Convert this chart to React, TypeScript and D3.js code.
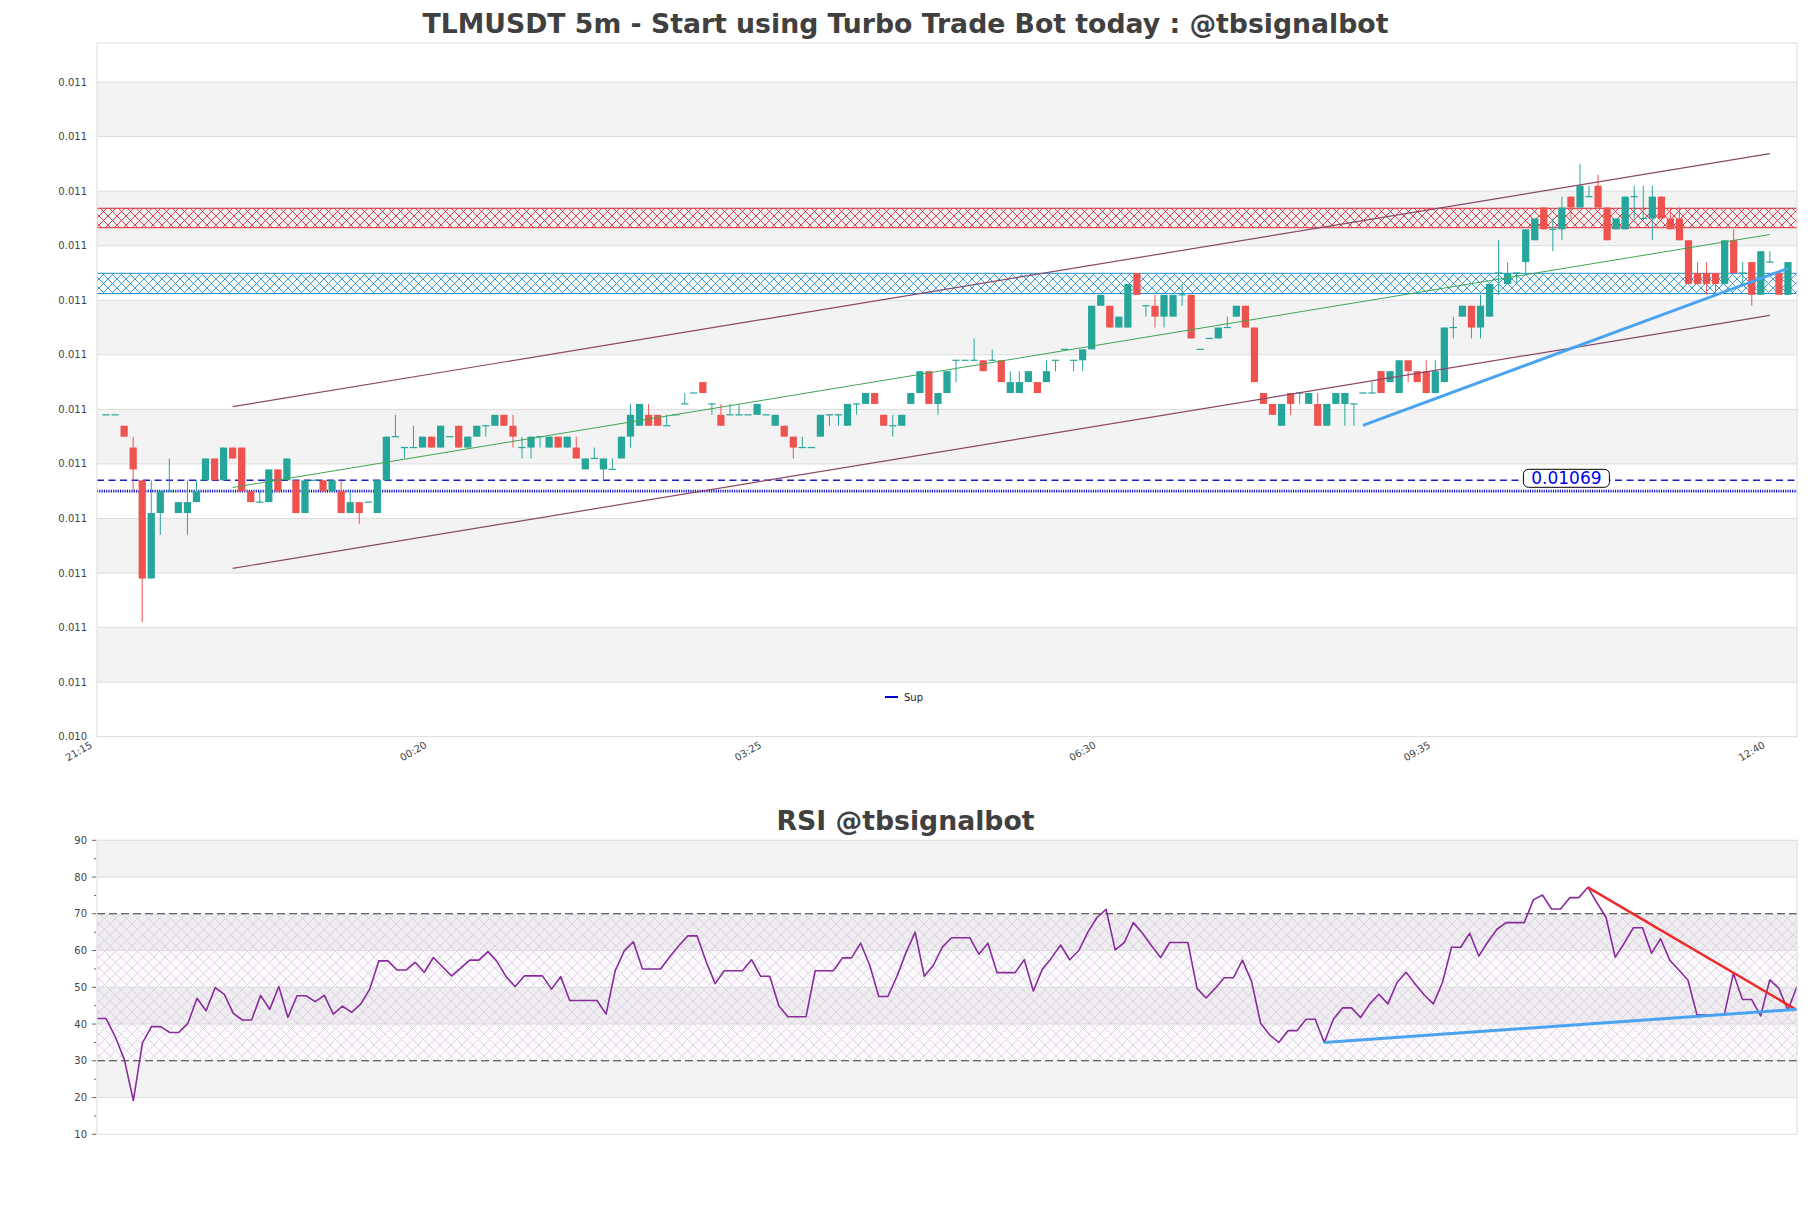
import React, { useEffect } from "react";
import * as d3 from "d3";

const FONT = "'DejaVu Sans', Verdana, sans-serif";
const TICK = 0.00001; // prices below are in 1e-5 USDT steps

// ---------- candles (slot 1 .. 187, 5-minute bars) ----------
const firstSlot = 1;
const opens = [1075,1075,1074,1072,1069,1060,1066,1068,1066,1066,1067,1069,1071,1069,1072,1072,1068,1067,1067,1070,1069,1069,1066,1069,1069,1068,1068,1066,1067,1067,1066,1069,1073,1072,1072,1072,1073,1072,1073,1074,1072,1073,1074,1074,1075,1074,1072,1072,1073,1072,1073,1072,1072,1070,1071,1070,1070,1071,1073,1074,1075,1075,1074,1075,1076,1077,1078,1076,1075,1075,1075,1075,1075,1075,1074,1074,1073,1072,1072,1073,1075,1075,1074,1076,1076,1077,1075,1074,1074,1076,1077,1079,1076,1077,1080,1080,1080,1080,1080,1080,1077,1077,1078,1078,1078,1080,1081,1080,1080,1081,1085,1085,1083,1083,1088,1085,1085,1084,1084,1086,1086,1081,1082,1082,1083,1084,1085,1083,1077,1076,1074,1077,1077,1076,1076,1074,1076,1076,1076,1077,1077,1079,1078,1077,1080,1079,1079,1077,1078,1083,1084,1085,1083,1084,1088,1087,1088,1089,1091,1094,1092,1092,1095,1094,1095,1096,1094,1092,1092,1095,1093,1093,1095,1093,1093,1091,1088,1088,1088,1087,1091,1088,1089,1086,1089,1088,1086];
const highs = [1075,1075,1074,1073,1069,1069,1068,1071,1067,1069,1069,1071,1071,1072,1072,1072,1068,1068,1070,1070,1071,1069,1069,1069,1069,1069,1069,1068,1067,1067,1069,1073,1075,1072,1074,1073,1073,1074,1073,1074,1073,1074,1074,1075,1075,1075,1073,1073,1073,1073,1073,1073,1073,1071,1072,1071,1071,1073,1076,1076,1076,1075,1075,1075,1077,1077,1078,1076,1076,1076,1076,1075,1076,1075,1075,1074,1073,1073,1072,1075,1075,1075,1076,1076,1077,1077,1075,1075,1075,1077,1079,1079,1077,1079,1080,1080,1082,1080,1081,1080,1079,1079,1079,1078,1080,1080,1081,1080,1081,1085,1086,1085,1084,1087,1088,1085,1086,1086,1086,1087,1086,1081,1082,1083,1084,1085,1085,1083,1077,1076,1076,1077,1077,1077,1077,1076,1077,1077,1076,1077,1078,1079,1079,1080,1080,1079,1080,1080,1083,1084,1085,1085,1086,1087,1091,1089,1088,1092,1093,1094,1093,1095,1095,1098,1096,1097,1094,1093,1095,1096,1096,1096,1095,1094,1094,1091,1089,1089,1088,1091,1092,1089,1089,1090,1090,1088,1089];
const lows = [1075,1075,1073,1068,1056,1060,1064,1068,1066,1064,1067,1069,1069,1069,1071,1068,1067,1067,1067,1068,1069,1066,1066,1069,1068,1068,1066,1066,1065,1067,1066,1069,1073,1071,1072,1072,1072,1072,1073,1072,1072,1073,1073,1074,1074,1072,1071,1071,1072,1072,1072,1072,1071,1070,1071,1069,1070,1071,1072,1074,1074,1074,1074,1075,1076,1077,1077,1075,1074,1075,1075,1075,1075,1075,1074,1073,1071,1072,1072,1073,1074,1074,1074,1075,1076,1076,1074,1073,1074,1076,1077,1076,1075,1077,1078,1080,1080,1079,1080,1078,1077,1077,1078,1077,1078,1079,1081,1079,1079,1081,1085,1083,1083,1083,1086,1084,1083,1083,1084,1085,1082,1081,1082,1082,1083,1084,1083,1078,1076,1075,1074,1075,1076,1076,1074,1074,1076,1074,1074,1077,1077,1077,1078,1077,1078,1078,1077,1077,1078,1082,1084,1082,1082,1084,1086,1087,1087,1088,1091,1092,1090,1091,1093,1094,1095,1094,1091,1092,1092,1093,1093,1091,1093,1092,1091,1087,1087,1086,1086,1087,1088,1087,1085,1086,1089,1086,1086];
const closes = [1075,1075,1073,1070,1060,1066,1068,1068,1067,1067,1068,1071,1069,1072,1071,1068,1067,1067,1070,1068,1071,1066,1069,1069,1068,1069,1066,1067,1066,1067,1069,1073,1073,1072,1072,1073,1072,1074,1073,1072,1073,1074,1074,1075,1074,1073,1072,1073,1073,1073,1072,1073,1071,1071,1071,1071,1070,1073,1075,1076,1074,1074,1074,1075,1076,1077,1077,1076,1074,1075,1075,1075,1076,1075,1075,1073,1072,1072,1072,1075,1075,1075,1076,1076,1077,1076,1074,1074,1075,1077,1079,1076,1077,1079,1080,1080,1080,1079,1080,1078,1078,1078,1079,1077,1079,1080,1081,1080,1081,1085,1086,1083,1084,1087,1086,1085,1084,1086,1086,1086,1082,1081,1082,1083,1083,1085,1083,1078,1076,1075,1076,1076,1077,1077,1074,1076,1077,1077,1076,1077,1077,1077,1079,1080,1079,1078,1077,1079,1083,1083,1085,1083,1085,1087,1088,1088,1088,1092,1093,1092,1092,1094,1094,1096,1095,1094,1091,1093,1095,1095,1093,1095,1093,1092,1091,1087,1087,1087,1087,1091,1088,1088,1086,1090,1089,1086,1089];

// ---------- RSI ----------
const rsiValues = [
  41.5, 41.5, 36.6, 30.4, 19.2, 34.9, 39.3, 39.3, 37.7, 37.7,
  40.2, 47.0, 43.6, 49.9, 48.1, 42.9, 41.1, 41.1, 47.8, 44.0,
  50.2, 41.8, 47.7, 47.7, 46.1, 47.8, 42.7, 44.9, 43.2, 45.4,
  49.5, 57.2, 57.2, 54.7, 54.7, 56.8, 54.1, 58.1, 55.6, 53.1,
  55.2, 57.4, 57.4, 59.7, 57.0, 52.9, 50.2, 53.1, 53.1, 53.1,
  49.5, 52.9, 46.4, 46.4, 46.4, 46.4, 42.7, 54.5, 59.9, 62.4,
  55.0, 55.0, 55.0, 58.3, 61.3, 64.0, 64.0,
  57.0, 51.0, 54.5, 54.5, 54.5, 57.5, 53.0, 53.0, 45.0, 42.0,
  42.0, 42.0, 54.5, 54.5, 54.5, 58.0, 58.0, 62.0, 56.0, 47.5,
  47.5, 53.0, 59.5, 65.0, 53.0, 56.0, 61.0, 63.5, 63.5, 63.5,
  59.0, 62.0, 54.0, 54.0, 54.0, 57.5, 49.0, 55.0, 58.0, 61.5,
  57.5, 60.0, 65.0, 69.0,
  71.2, 60.2, 62.2, 67.6, 64.7, 61.3, 58.1, 62.2, 62.2, 62.2,
  49.7, 47.1, 49.7, 52.6, 52.6, 57.4, 51.6, 40.2, 37.0, 35.0,
  38.2, 38.2, 41.3, 41.3, 35.0, 41.3, 44.4, 44.4, 41.8, 45.5,
  48.1, 45.5, 51.3, 54.1, 50.9, 47.9, 45.5, 51.3, 60.9, 60.9,
  64.7, 58.5, 62.4, 65.8, 67.6, 67.6, 67.6, 73.8, 75.1, 71.3,
  71.3, 74.4, 74.4, 77.2, 73.0, 69.0, 58.2, 62.0, 66.2, 66.2,
  59.3, 63.2, 57.4, 54.7, 52.0, 42.5, 42.5, 42.5, 42.5, 53.8,
  46.7, 46.7, 42.2, 52.0, 49.7, 43.8, 50.2,
];

// ---------- axes ----------
const priceTicks = [0.010455, 0.010505, 0.010555, 0.010605, 0.010655, 0.010705, 0.010755, 0.010805, 0.010855, 0.010905, 0.010955, 0.011005, 0.011055];
const priceTickLabels = ["0.010", "0.011", "0.011", "0.011", "0.011", "0.011", "0.011", "0.011", "0.011", "0.011", "0.011", "0.011", "0.011"];
const priceDomain = [0.010455, 0.0110908];
const xTickSlots = [0, 37, 74, 111, 148, 185];
const xTickLabels = ["21:15", "00:20", "03:25", "06:30", "09:35", "12:40"];
const slotDomain = [0, 188];
const rsiTicks = [10, 20, 30, 40, 50, 60, 70, 80, 90];
const rsiMinorTicks = [15, 25, 35, 45, 55, 65, 75, 85];
const rsiGrayBands = [[80, 90], [60, 70], [40, 50], [20, 30]];
const rsiGridLines = [20, 40, 50, 60, 80];
const rsiDashed = [30, 70];

// ---------- annotations ----------
const resistanceZone = [0.0109215, 0.0109393];
const supportZone = [0.0108612, 0.0108797];
const levelPrice = 0.01069;
const levelLabel = "0.01069";
const levelLabelSlot = 162.5;
const supPrice = 0.01068;
const channelSlots = [15, 185];
const channelUpper = [0.0107575, 0.0109894];
const channelMid = [0.0106834, 0.0109153];
const channelLower = [0.0106093, 0.0108412];
const trendSlots = [140, 187];
const trendPrices = [0.0107404, 0.0108843];
const rsiDownSlots = [164, 187];
const rsiDownVals = [77.2, 43.8];
const rsiUpSlots = [135, 187];
const rsiUpVals = [35.0, 44.0];

const W = 1811;
const H = 1208;
const L = 97;
const R = 1797;
const mainTop = 43;
const mainBottom = 736.7;
const rsiTop = 840.3;
const rsiBottom = 1134.3;

const UP = "#26a69a";
const DOWN = "#ef5350";

export default function App() {
  useEffect(() => {
    document.body.style.margin = "0";
  }, []);

  const x = d3.scaleLinear().domain(slotDomain).range([L, R]);
  const y = d3.scaleLinear().domain(priceDomain).range([mainBottom, mainTop]);
  const xr = d3.scaleLinear().domain([0, rsiValues.length - 1]).range([L, R]);
  const yr = d3.scaleLinear().domain([10, 90]).range([rsiBottom, rsiTop]);

  const step = x(1) - x(0);
  const bw = step * 0.8;

  const candles = opens.map((o, k) => ({
    slot: firstSlot + k,
    o: o * TICK,
    h: highs[k] * TICK,
    l: lows[k] * TICK,
    c: closes[k] * TICK,
  }));

  const rsiLine = d3
    .line<number>()
    .x((_, i) => xr(i))
    .y((v) => yr(v))(rsiValues) as string;

  const lineSeg = (slots: number[], vals: number[], sx: any, sy: any) =>
    d3.line<number>().x((_, i) => sx(slots[i])).y((v) => sy(v))(vals) as string;

  return (
    <svg width={W} height={H} style={{ display: "block", background: "#fff" }} fontFamily={FONT}>
      <defs>
        <pattern id="redHatch" patternUnits="userSpaceOnUse" width="9" height="9">
          <path d="M0,0L9,9M9,0L0,9" stroke="#e0282e" strokeWidth="0.9" fill="none" />
        </pattern>
        <pattern id="blueHatch" patternUnits="userSpaceOnUse" width="9" height="9">
          <path d="M0,0L9,9M9,0L0,9" stroke="#1e8fd8" strokeWidth="0.9" fill="none" />
        </pattern>
        <pattern id="rsiHatch" patternUnits="userSpaceOnUse" width="11" height="11">
          <path d="M0,0L11,11M11,0L0,11" stroke="#cdbfd6" strokeWidth="0.6" fill="none" />
        </pattern>
        <clipPath id="mainClip">
          <rect x={L} y={mainTop} width={R - L} height={mainBottom - mainTop} />
        </clipPath>
        <clipPath id="rsiClip">
          <rect x={L} y={rsiTop} width={R - L} height={rsiBottom - rsiTop} />
        </clipPath>
      </defs>

      {/* titles */}
      <text x={W / 2} y={33} textAnchor="middle" fontSize={26.7} fontWeight="bold" fill="#404040">
        TLMUSDT 5m - Start using Turbo Trade Bot today : @tbsignalbot
      </text>
      <text x={W / 2} y={830} textAnchor="middle" fontSize={26.7} fontWeight="bold" fill="#404040">
        RSI @tbsignalbot
      </text>

      {/* ---------- main panel ---------- */}
      <g clipPath="url(#mainClip)">
        {priceTicks.map((t, k) =>
          k % 2 === 1 && k + 1 < priceTicks.length ? (
            <rect key={"b" + k} x={L} width={R - L} y={y(priceTicks[k + 1])} height={y(t) - y(priceTicks[k + 1])} fill="#f3f3f3" />
          ) : null
        )}
        {priceTicks.map((t, k) => (
          <line key={"g" + k} x1={L} x2={R} y1={y(t)} y2={y(t)} stroke="#dcdcdc" strokeWidth={1} />
        ))}
        {/* zones */}
        {[
          { z: resistanceZone, id: "redHatch", c: "#e0282e" },
          { z: supportZone, id: "blueHatch", c: "#1e8fd8" },
        ].map((zz) => (
          <g key={zz.id}>
            <rect x={L} width={R - L} y={y(zz.z[1])} height={y(zz.z[0]) - y(zz.z[1])} fill={`url(#${zz.id})`} />
            <line x1={L} x2={R} y1={y(zz.z[1])} y2={y(zz.z[1])} stroke={zz.c} strokeWidth={1} />
            <line x1={L} x2={R} y1={y(zz.z[0])} y2={y(zz.z[0])} stroke={zz.c} strokeWidth={1} />
          </g>
        ))}
        {/* level lines */}
        <line x1={L} x2={R} y1={y(levelPrice)} y2={y(levelPrice)} stroke="#1c1cc8" strokeWidth={1.5} strokeDasharray="7,4.5" />
        <line x1={L} x2={R} y1={y(supPrice)} y2={y(supPrice)} stroke="#0000cc" strokeWidth={2.8} strokeDasharray="1.1,1.2" />
        {/* candles */}
        {candles.map((d) => {
          const col = d.c >= d.o ? UP : DOWN;
          const cx = x(d.slot);
          const top = y(Math.max(d.o, d.c));
          const bot = y(Math.min(d.o, d.c));
          return (
            <g key={d.slot}>
              {d.h > d.l && <line x1={cx} x2={cx} y1={y(d.h)} y2={y(d.l)} stroke={col} strokeWidth={1} />}
              <rect x={cx - bw / 2} width={bw} y={bot - top < 1 ? top - 0.6 : top} height={Math.max(1.2, bot - top)} fill={col} />
            </g>
          );
        })}
        {/* channel */}
        <path d={lineSeg(channelSlots, channelUpper, x, y)} stroke="#8a4868" strokeWidth={1.2} fill="none" />
        <path d={lineSeg(channelSlots, channelLower, x, y)} stroke="#8a4868" strokeWidth={1.2} fill="none" />
        <path d={lineSeg(channelSlots, channelMid, x, y)} stroke="#3fa552" strokeWidth={1} fill="none" />
        <path d={lineSeg(trendSlots, trendPrices, x, y)} stroke="#4aa3f0" strokeWidth={3} fill="none" />
      </g>
      <rect x={L} y={mainTop} width={R - L} height={mainBottom - mainTop} fill="none" stroke="#dcdcdc" />

      {/* level label */}
      <g transform={`translate(${x(levelLabelSlot)},${y(levelPrice) - 2})`}>
        <rect x={-43} y={-9} width={86} height={18} rx={5} fill="#fff" stroke="#000" strokeWidth={1} />
        <text textAnchor="middle" dy="0.36em" fontSize={17} fill="#0000ee">{levelLabel}</text>
      </g>

      {/* legend */}
      <line x1={885} x2={898} y1={697} y2={697} stroke="#0000cc" strokeWidth={2} />
      <text x={904} y={697} dy="0.35em" fontSize={10} fill="#222">Sup</text>

      {/* main y labels */}
      {priceTicks.map((t, k) => (
        <text key={"yl" + k} x={87} y={y(t)} dy="0.35em" textAnchor="end" fontSize={10} fill="#444">
          {priceTickLabels[k]}
        </text>
      ))}
      {/* x labels */}
      {xTickSlots.map((s, k) => (
        <text key={"xl" + k} transform={`translate(${x(s) - 4},${747}) rotate(-30)`} textAnchor="end" fontSize={10} fill="#444">
          {xTickLabels[k]}
        </text>
      ))}

      {/* ---------- RSI panel ---------- */}
      <g clipPath="url(#rsiClip)">
        {rsiGrayBands.map((b, k) => (
          <rect key={"rb" + k} x={L} width={R - L} y={yr(b[1])} height={yr(b[0]) - yr(b[1])} fill="#f3f3f3" />
        ))}
        <rect x={L} width={R - L} y={yr(70)} height={yr(30) - yr(70)} fill="rgba(140,80,160,0.035)" />
        <rect x={L} width={R - L} y={yr(70)} height={yr(30) - yr(70)} fill="url(#rsiHatch)" />
        {rsiGridLines.map((v) => (
          <line key={"rg" + v} x1={L} x2={R} y1={yr(v)} y2={yr(v)} stroke="#dcdcdc" />
        ))}
        {rsiDashed.map((v) => (
          <line key={"rd" + v} x1={L} x2={R} y1={yr(v)} y2={yr(v)} stroke="#333" strokeWidth={1.1} strokeDasharray="8,4" />
        ))}
        <path d={rsiLine} stroke="#8a2b9c" strokeWidth={1.6} fill="none" strokeLinejoin="round" />
        <path d={lineSeg(rsiDownSlots, rsiDownVals, xr, yr)} stroke="#ee2a2a" strokeWidth={2.5} fill="none" />
        <path d={lineSeg(rsiUpSlots, rsiUpVals, xr, yr)} stroke="#4aa3f0" strokeWidth={3} fill="none" />
      </g>
      <rect x={L} y={rsiTop} width={R - L} height={rsiBottom - rsiTop} fill="none" stroke="#dcdcdc" />
      {rsiTicks.map((t) => (
        <g key={"rt" + t}>
          <line x1={L - 5} x2={L - 1} y1={yr(t)} y2={yr(t)} stroke="#666" />
          <text x={87} y={yr(t)} dy="0.35em" textAnchor="end" fontSize={10} fill="#444">{t}</text>
        </g>
      ))}
      {rsiMinorTicks.map((t) => (
        <line key={"rm" + t} x1={L - 3} x2={L - 1} y1={yr(t)} y2={yr(t)} stroke="#666" />
      ))}
    </svg>
  );
}
